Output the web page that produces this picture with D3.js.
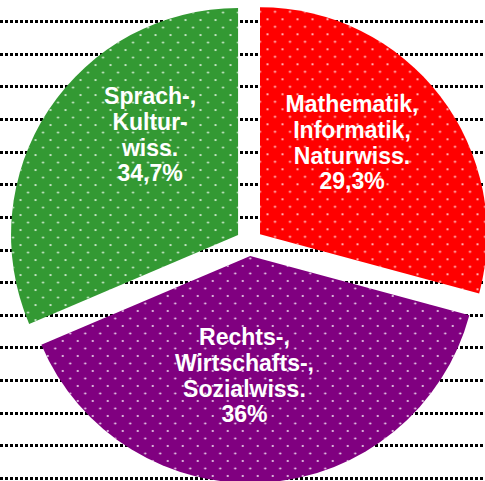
<!DOCTYPE html>
<html>
<head>
<meta charset="utf-8">
<script src="https://cdn.jsdelivr.net/npm/d3@7"></script>
<style>
  html, body { margin: 0; padding: 0; background: #fff; }
  svg { display: block; }
  .label { font-family: "Liberation Sans", Arial, sans-serif; font-weight: bold; font-size: 23px; fill: #fff; }
</style>
</head>
<body>
<div class="chart"></div>
<script>
// share of the slices as drawn (clockwise from 12 o'clock)
var categories = ['Mathematik, Informatik, Naturwiss.', 'Rechts-, Wirtschafts-, Sozialwiss.', 'Sprach-, Kulturwiss.'];
var values = [29.2, 39.4, 31.4];
// text printed on the slices
var labelLines = [
  ['Mathematik,', 'Informatik,', 'Naturwiss.', '29,3%'],
  ['Rechts-,', 'Wirtschafts-,', 'Sozialwiss.', '36%'],
  ['Sprach-,', 'Kultur-', 'wiss.', '34,7%']
];
var colors = ['#ff0000', '#800080', '#339933'];
var gridRows = d3.range(15);

var width = 485, height = 481;
var cx = 249.3, cy = 242.5, radius = 227, explode = 13.5;
var lineHeight = 25.7;

var svg = d3.select('.chart').append('svg')
  .attr('width', width)
  .attr('height', height);

// white dot pattern laid over every slice
var pat = svg.append('defs').append('pattern')
  .attr('id', 'dots')
  .attr('patternUnits', 'userSpaceOnUse')
  .attr('x', -7.5).attr('y', -5)
  .attr('width', 15).attr('height', 15);
pat.selectAll('circle')
  .data([[7.5, 7.5], [0, 0], [15, 0], [0, 15], [15, 15]])
  .enter().append('circle')
    .attr('cx', function(d) { return d[0]; })
    .attr('cy', function(d) { return d[1]; })
    .attr('r', 1.1)
    .attr('fill', '#fff')
    .attr('fill-opacity', 0.85);

// dotted horizontal lines behind the pie
var yGrid = d3.scaleLinear().domain([0, 14]).range([21, 478]);
svg.append('g').selectAll('line')
  .data(gridRows)
  .enter().append('line')
    .attr('x1', 0).attr('x2', width)
    .attr('y1', function(d) { return Math.round(yGrid(d)); })
    .attr('y2', function(d) { return Math.round(yGrid(d)); })
    .attr('stroke', '#000')
    .attr('stroke-width', 3)
    .attr('stroke-dasharray', '3,2')
    .attr('shape-rendering', 'crispEdges');

var pie = d3.pie().sort(null).value(function(d) { return d; });
var arc = d3.arc().innerRadius(0).outerRadius(radius);
var arcs = pie(values);

// every slice is pulled out along its bisector
var offset = function(d) {
  var a = (d.startAngle + d.endAngle) / 2;
  return [cx + explode * Math.sin(a), cy - explode * Math.cos(a)];
};

var slices = svg.append('g').selectAll('g')
  .data(arcs)
  .enter().append('g')
    .attr('transform', function(d) { return 'translate(' + offset(d) + ')'; });

slices.append('path')
  .attr('d', arc)
  .attr('fill', function(d, i) { return colors[i]; });

// pattern is in page space, so the dots line up across slices
slices.append('path')
  .attr('d', arc)
  .attr('fill', 'url(#dots)');

// label anchor: point along the bisector, then nudged like the original
var labelRadius = [131, 119, 133];
var nudge = [[-12, -12], [-14, 1], [23, -27]];

svg.append('g').selectAll('text')
  .data(arcs)
  .enter().append('text')
    .attr('class', 'label')
    .attr('text-anchor', 'middle')
    .each(function(d, i) {
      var o = offset(d);
      var a = (d.startAngle + d.endAngle) / 2;
      var x = o[0] + labelRadius[i] * Math.sin(a) + nudge[i][0];
      var y = o[1] - labelRadius[i] * Math.cos(a) + nudge[i][1];
      var first = y - 1.5 * lineHeight + 8.2;
      d3.select(this).selectAll('tspan')
        .data(labelLines[i])
        .enter().append('tspan')
          .attr('x', x)
          .attr('y', function(t, j) { return first + j * lineHeight; })
          .text(function(t) { return t; });
    });
</script>
</body>
</html>
